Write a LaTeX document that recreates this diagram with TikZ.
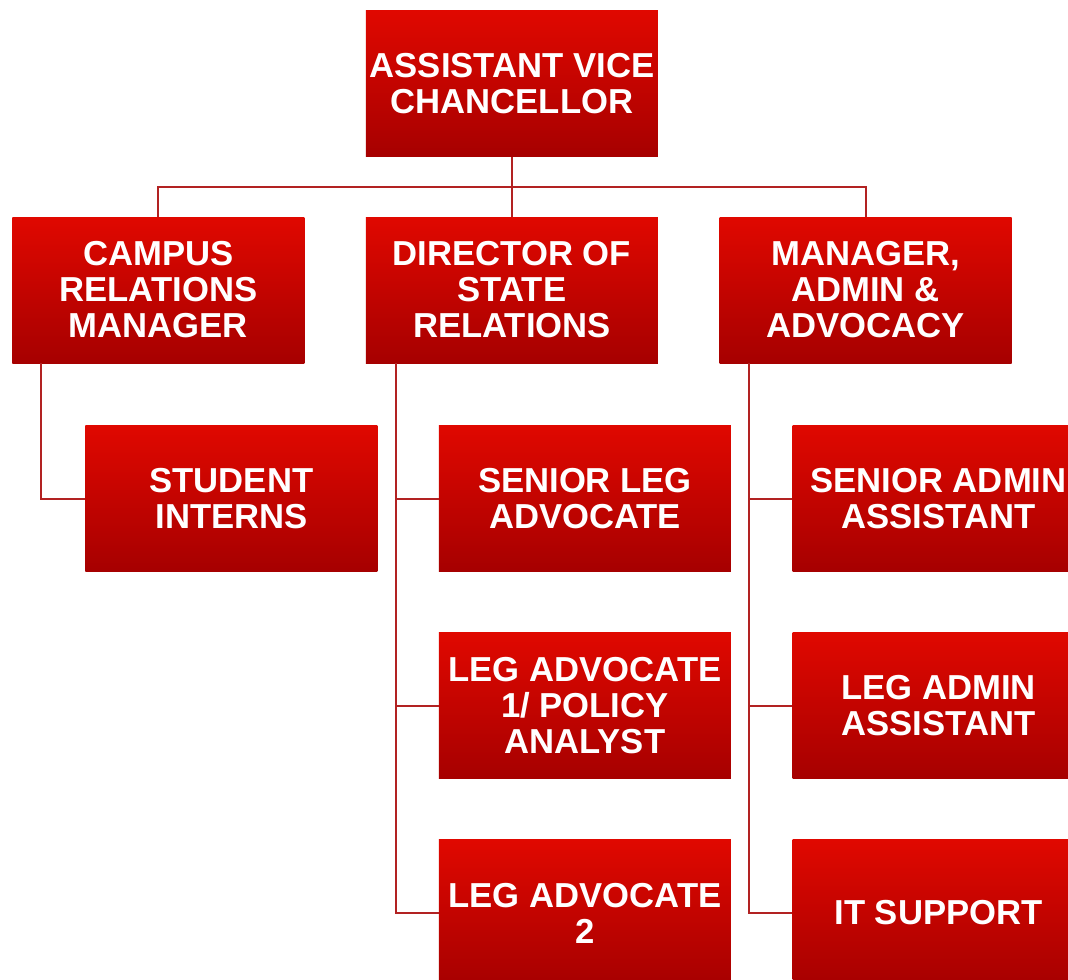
\documentclass[tikz,border=0pt]{standalone}
\usepackage{fontspec}
\setmainfont{Liberation Sans}
\usetikzlibrary{positioning}
\definecolor{boxtop}{RGB}{224,8,0}
\definecolor{boxbot}{RGB}{166,0,0}
\definecolor{linkred}{RGB}{178,34,34}
\tikzset{
  box/.style={rectangle, top color=boxtop, bottom color=boxbot,
    minimum width=219pt, minimum height=109.5pt, inner sep=0pt,
    align=center, text=white, font=\fontsize{26pt}{27pt}\selectfont\bfseries},
  link/.style={draw=linkred, line width=1.5pt}
}
\begin{document}
\begin{tikzpicture}
      \useasboundingbox (-384pt,62.625pt) rectangle (417pt,-672.375pt);
      \clip (-384pt,62.625pt) rectangle (417pt,-672.375pt);

      \node [box] (avc) {ASSISTANT VICE\\CHANCELLOR};
      \node [box,below=45pt of avc] (dsr) {DIRECTOR OF\\STATE\\RELATIONS};
      \node [box,left=45.75pt of dsr] (crm) {CAMPUS\\RELATIONS\\MANAGER};
      \node [box,right=45.75pt of dsr] (maa) {MANAGER,\\ADMIN \&\\ADVOCACY};

      \node [box,below=46.5pt of crm,xshift=54.75pt] (si) {STUDENT\\INTERNS};

      \node [box,below=46.5pt of dsr,xshift=54.75pt] (sla) {SENIOR LEG\\ADVOCATE};
      \node [box,below=45.5pt of sla] (la1) {LEG ADVOCATE\\1/ POLICY\\ANALYST};
      \node [box,below=45.5pt of la1] (la2) {LEG ADVOCATE\\2};

      \node [box,below=46.5pt of maa,xshift=54.75pt] (saa) {SENIOR ADMIN\\ASSISTANT};
      \node [box,below=45.5pt of saa] (laa) {LEG ADMIN\\ASSISTANT};
      \node [box,below=45.5pt of laa] (its) {IT SUPPORT};

      \draw[link] (avc) -- (dsr);
      \draw[link] (crm.north) -- ++(0,22.5pt) -| (maa.north);
      \draw[link] (crm.south west) ++(21.75pt,0) |- (si.west);
      \foreach \n in {sla,la1,la2}
        \draw[link] (dsr.south west) ++(22.5pt,0) |- (\n.west);
      \foreach \n in {saa,laa,its}
        \draw[link] (maa.south west) ++(22.5pt,0) |- (\n.west);
    \end{tikzpicture}
\end{document}
